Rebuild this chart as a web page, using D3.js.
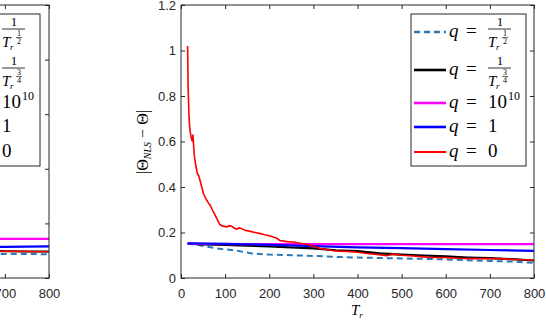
<!DOCTYPE html>
<html>
<head>
<meta charset="utf-8">
<title>NLS error vs Tr</title>
<script src="https://d3js.org/d3.v7.min.js"></script>
<style>
body{margin:0;background:#fff}
svg text{font-family:"Liberation Sans",Arial,sans-serif;fill:#262626}
svg text.m{font-family:"Liberation Serif","DejaVu Serif",serif;fill:#000}
</style>
</head>
<body>
<script>
var W = 546, H = 320;
var svg = d3.select("body").append("svg").attr("width", W).attr("height", H);

// ticks
var xTicks = [0, 100, 200, 300, 400, 500, 600, 700, 800];
var xLabelsR = ["0", "100", "200", "300", "400", "500", "600", "700", "800"];
var xLabelsL = ["", "", "", "", "", "", "", "700", "800"];
var yTicksR = [0, 0.2, 0.4, 0.6, 0.8, 1, 1.2];
var yLabelsR = ["0", "0.2", "0.4", "0.6", "0.8", "1", "1.2"];
var yTicksL = [0, 0.2, 0.4, 0.6, 0.8, 1];
var yLabelsL = ["", "", "", "", "", ""];

// right panel series
var tDash = [15, 40, 80, 120, 160, 200, 250, 300, 350, 400, 450, 500, 550, 600, 650, 700, 750, 800];
var vDash = [0.15, 0.145, 0.13, 0.122, 0.108, 0.103, 0.1, 0.097, 0.093, 0.09, 0.088, 0.086, 0.084, 0.082, 0.078, 0.075, 0.072, 0.067];
var tBlack = [15, 50, 100, 150, 200, 250, 300, 350, 400, 450, 500, 550, 600, 650, 700, 750, 800];
var vBlack = [0.151, 0.148, 0.145, 0.142, 0.139, 0.134, 0.13, 0.122, 0.118, 0.108, 0.103, 0.099, 0.095, 0.09, 0.087, 0.083, 0.077];
var tMag = [15, 200, 400, 600, 800];
var vMag = [0.15, 0.149, 0.149, 0.149, 0.149];
var tBlue = [15, 100, 200, 300, 400, 500, 600, 700, 800];
var vBlue = [0.152, 0.15, 0.146, 0.14, 0.135, 0.131, 0.127, 0.123, 0.119];
var tRed = [15, 16, 18, 19, 21, 24, 26, 27, 30, 33, 37, 40, 43, 47, 51, 56, 62, 66, 71, 75, 79, 84, 88, 95, 104, 110, 115, 120, 126, 132, 138, 145, 157, 168, 180, 190, 202, 217, 224, 240, 255, 270, 285, 300, 315, 330, 345, 360, 376, 400, 421, 445, 466, 481, 500, 526, 550, 571, 595, 617, 640, 662, 685, 707, 730, 753, 775, 798];
var vRed = [1.02, 0.85, 0.72, 0.68, 0.64, 0.61, 0.6, 0.63, 0.54, 0.5, 0.46, 0.45, 0.43, 0.4, 0.37, 0.35, 0.33, 0.32, 0.3, 0.285, 0.27, 0.25, 0.235, 0.228, 0.225, 0.23, 0.228, 0.22, 0.215, 0.22, 0.217, 0.21, 0.205, 0.2, 0.195, 0.19, 0.185, 0.175, 0.165, 0.16, 0.158, 0.153, 0.148, 0.14, 0.13, 0.125, 0.12, 0.118, 0.117, 0.113, 0.108, 0.104, 0.098, 0.105, 0.1, 0.097, 0.093, 0.09, 0.09, 0.088, 0.086, 0.085, 0.085, 0.086, 0.084, 0.082, 0.08, 0.078];

// left panel (only its right edge is in view)
var tLeft = [600, 650, 700, 750, 800];
var lDash = [0.09, 0.089, 0.088, 0.088, 0.087];
var lBlack = [0.1, 0.099, 0.098, 0.097, 0.097];
var lMag = [0.143, 0.143, 0.143, 0.143, 0.143];
var lBlue = [0.113, 0.114, 0.114, 0.115, 0.116];
var lRed = [0.1, 0.099, 0.098, 0.097, 0.096];

var colors = ["#2a7ab9", "#000000", "#ff00ff", "#0000ff", "#ff0000"];
var widths = [2, 2.2, 2.2, 2.2, 1.6];
var dashes = ["6,4", null, null, null, null];

var ax = "#262626";

function panel(x, y, series, xLabels, yTicks, yLabels) {
  var g = svg.append("g");
  var line = d3.line().x(function(d){ return x(d[0]); }).y(function(d){ return y(d[1]); });
  series.forEach(function(s, i) {
    g.append("path").datum(d3.zip(s[0], s[1]))
      .attr("d", line).attr("fill", "none")
      .attr("stroke", colors[i]).attr("stroke-width", widths[i])
      .attr("stroke-dasharray", dashes[i]);
  });
  var x0 = x.range()[0], x1 = x.range()[1], y0 = y.range()[0], y1 = y.range()[1];
  g.append("g").attr("transform", "translate(0," + y0 + ")")
    .call(d3.axisBottom(x).tickValues(xTicks).tickSizeInner(-4).tickSizeOuter(0).tickPadding(11)
      .tickFormat(function(d, i){ return xLabels[i]; }))
    .call(function(a){ a.select(".domain").remove(); a.selectAll("text").attr("font-size", 13).attr("font-family", null); a.selectAll("line").attr("stroke", ax); });
  g.append("g").attr("transform", "translate(0," + y1 + ")")
    .call(d3.axisTop(x).tickValues(xTicks).tickSizeInner(-4).tickSizeOuter(0).tickFormat(""))
    .call(function(a){ a.select(".domain").remove(); a.selectAll("line").attr("stroke", ax); });
  g.append("g").attr("transform", "translate(" + x0 + ",0)")
    .call(d3.axisLeft(y).tickValues(yTicks).tickSizeInner(-4).tickSizeOuter(0).tickPadding(5)
      .tickFormat(function(d, i){ return yLabels[i]; }))
    .call(function(a){ a.select(".domain").remove(); a.selectAll("text").attr("font-size", 13).attr("font-family", null); a.selectAll("line").attr("stroke", ax); });
  g.append("g").attr("transform", "translate(" + x1 + ",0)")
    .call(d3.axisRight(y).tickValues(yTicks).tickSizeInner(-4).tickSizeOuter(0).tickFormat(""))
    .call(function(a){ a.select(".domain").remove(); a.selectAll("line").attr("stroke", ax); });
  g.append("rect").attr("x", x0).attr("y", y1).attr("width", x1 - x0).attr("height", y0 - y1)
    .attr("fill", "none").attr("stroke", ax).attr("stroke-width", 1);
  g.selectAll(".tick text").filter(function(){ return this.textContent == ""; }).remove();
  return g;
}

function mtext(g, x, yb, size, str, italic, anchor) {
  return g.append("text").attr("class", "m").attr("x", x).attr("y", yb)
    .attr("font-size", size).attr("font-style", italic ? "italic" : null)
    .attr("text-anchor", anchor || null).text(str);
}

function fracT(g, x, b, sa, sb) {
  g.append("line").attr("x1", x).attr("x2", x + 23).attr("y1", b).attr("y2", b)
    .attr("stroke", "#000").attr("stroke-width", 0.8);
  mtext(g, x + 12, b - 3, 13, "1", false, "middle");
  mtext(g, x, b + 18, 15, "T", true);
  mtext(g, x + 8, b + 21, 9, "r", true);
  mtext(g, x + 17, b + 7, 8, sa, false, "middle");
  g.append("line").attr("x1", x + 14).attr("x2", x + 20).attr("y1", b + 8.5).attr("y2", b + 8.5)
    .attr("stroke", "#000").attr("stroke-width", 0.6);
  mtext(g, x + 17, b + 15, 8, sb, false, "middle");
}

var legY = [32, 70, 103, 127, 152];

// showQ: the "q =" part of the left legend lies outside the picture
function legend(x0, showQ) {
  var g = svg.append("g");
  g.append("rect").attr("x", x0).attr("y", 14).attr("width", 115).attr("height", 152)
    .attr("fill", "#fff").attr("stroke", ax).attr("stroke-width", 1);
  legY.forEach(function(y, i) {
    g.append("line").attr("x1", x0 + 3).attr("x2", x0 + 35).attr("y1", y).attr("y2", y)
      .attr("stroke", colors[i]).attr("stroke-width", widths[i] + 0.4)
      .attr("stroke-dasharray", dashes[i]);
    if (showQ) {
      mtext(g, x0 + 38, y + 5, 19, "q", true);
      mtext(g, x0 + 55, y + 5, 19, "=");
    }
    var vx = x0 + 77;
    if (i == 0) fracT(g, vx, y - 3, "1", "2");
    else if (i == 1) fracT(g, vx, y - 2, "3", "4");
    else if (i == 2) { mtext(g, vx, y + 5, 19, "10"); mtext(g, vx + 20, y - 3, 12, "10"); }
    else mtext(g, vx, y + 5, 19, i == 3 ? "1" : "0");
  });
}

// left panel, mostly outside the view
var xL = d3.scaleLinear().domain([0, 800]).range([-304, 49]);
var yL = d3.scaleLinear().domain([0, 1]).range([278, 5]);
panel(xL, yL, [[tLeft, lDash], [tLeft, lBlack], [tLeft, lMag], [tLeft, lBlue], [tLeft, lRed]], xLabelsL, yTicksL, yLabelsL);
legend(-75, false);

// right panel
var xR = d3.scaleLinear().domain([0, 800]).range([181, 534]);
var yR = d3.scaleLinear().domain([0, 1.2]).range([278, 5]);
panel(xR, yR, [[tDash, vDash], [tBlack, vBlack], [tMag, vMag], [tBlue, vBlue], [tRed, vRed]], xLabelsR, yTicksR, yLabelsR);
legend(411, true);

// axis labels
var yl = svg.append("text").attr("class", "m").attr("transform", "translate(148,142) rotate(-90)")
  .attr("text-anchor", "middle").attr("font-size", 16);
yl.append("tspan").text("|Θ");
yl.append("tspan").attr("font-size", 10).attr("font-style", "italic").attr("dy", 3).text("NLS");
yl.append("tspan").attr("dy", -3).text(" − Θ|");

var xl = svg.append("text").attr("class", "m").attr("x", 351).attr("y", 315).attr("font-size", 15);
xl.append("tspan").attr("font-style", "italic").text("T");
xl.append("tspan").attr("font-style", "italic").attr("font-size", 9).attr("dy", 3).text("r");
</script>
</body>
</html>
